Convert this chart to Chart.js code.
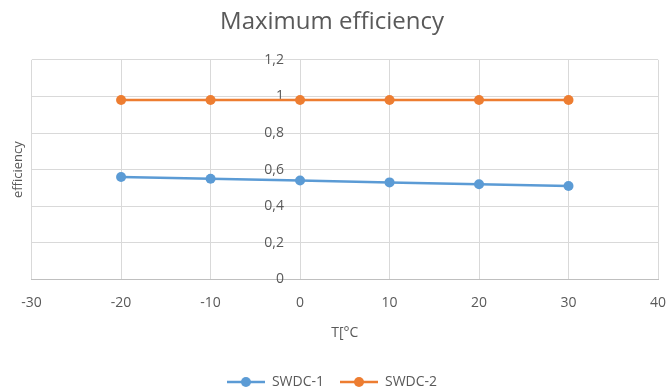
<!DOCTYPE html>
<html>
<head>
<meta charset="utf-8">
<script src="https://cdn.jsdelivr.net/npm/chart.js@4"></script>
<style>
  html, body { margin: 0; padding: 0; background: #fff; }
  #wrap { width: 669px; height: 390px; }
</style>
</head>
<body>
<div id="wrap"><canvas id="chart" width="669" height="390"></canvas></div>
<script>
const temps = [-20, -10, 0, 10, 20, 30];
const swdc1 = [0.56, 0.55, 0.54, 0.53, 0.52, 0.51];
const swdc2 = [0.98, 0.98, 0.98, 0.98, 0.98, 0.98];
const seriesNames = ["SWDC-1", "SWDC-2"];

const blue = "#5B9BD5";
const orange = "#ED7D31";
const textColor = "#595959";
const gridColor = "#D9D9D9";
const fontFamily = "'Open Sans', Lato, sans-serif";

// excel-like legend marker: short line with a dot in the middle
const legendMarker = (color) => {
  const c = document.createElement("canvas");
  c.width = 38;
  c.height = 12;
  const ctx = c.getContext("2d");
  ctx.strokeStyle = color;
  ctx.lineWidth = 2.5;
  ctx.beginPath();
  ctx.moveTo(0, 6);
  ctx.lineTo(38, 6);
  ctx.stroke();
  ctx.fillStyle = color;
  ctx.beginPath();
  ctx.arc(19, 6, 5, 0, Math.PI * 2);
  ctx.fill();
  return c;
};

const toPoints = (ys) => temps.map((t, i) => ({ x: t, y: ys[i] }));

const makeDataset = (label, ys, color) => ({
  label,
  data: toPoints(ys),
  borderColor: color,
  backgroundColor: color,
  borderWidth: 2.5,
  pointRadius: 5,
  pointBorderWidth: 0,
  pointHoverRadius: 5,
  showLine: true,
  tension: 0,
});

new Chart(document.getElementById("chart"), {
  type: "line",
  data: {
    datasets: [
      makeDataset(seriesNames[0], swdc1, blue),
      makeDataset(seriesNames[1], swdc2, orange),
    ],
  },
  options: {
    responsive: false,
    animation: false,
    layout: { padding: { left: 6, right: 11, top: 0, bottom: -9 } },
    plugins: {
      title: {
        display: true,
        text: "Maximum efficiency",
        color: textColor,
        font: { family: fontFamily, size: 24, weight: "normal" },
        padding: { top: 8, bottom: 23 },
      },
      legend: {
        position: "bottom",
        labels: {
          color: textColor,
          font: { family: fontFamily, size: 14 },
          usePointStyle: true,
          pointStyleWidth: 38,
          padding: 16,
          generateLabels: (chart) =>
            chart.data.datasets.map((ds, i) => ({
              text: ds.label,
              fontColor: textColor,
              pointStyle: legendMarker(ds.borderColor),
              strokeStyle: ds.borderColor,
              fillStyle: ds.borderColor,
              lineWidth: 0,
              datasetIndex: i,
              hidden: false,
            })),
        },
      },
      tooltip: { enabled: false },
    },
    scales: {
      x: {
        type: "linear",
        min: -30,
        max: 40,
        ticks: {
          stepSize: 10,
          color: textColor,
          padding: 0,
          font: { family: fontFamily, size: 14 },
        },
        // invisible tick marks give the gap under the axis
        grid: { color: gridColor, drawTicks: true, tickLength: 15, tickColor: "rgba(0,0,0,0)" },
        border: { color: "#BFBFBF" },
        title: {
          display: true,
          text: "T[°C",
          color: textColor,
          font: { family: fontFamily, size: 14 },
          padding: { top: 13, bottom: 18 },
        },
      },
      y: {
        min: 0,
        max: 1.2,
        ticks: { stepSize: 0.2, display: false },
        grid: { color: gridColor, drawTicks: false },
        border: { display: false },
        title: {
          display: true,
          text: "efficiency",
          color: textColor,
          font: { family: fontFamily, size: 13 },
          padding: { top: 4, bottom: 6 },
        },
      },
      y2: {
        axis: "y",
        position: { x: -1.8 },
        min: 0,
        max: 1.2,
        ticks: {
          stepSize: 0.2,
          color: textColor,
          padding: 0,
          font: { family: fontFamily, size: 14 },
          callback: (v) => String(Math.round(v * 10) / 10).replace(".", ","),
        },
        grid: { display: false, drawTicks: false },
        border: { display: false },
      },
    },
  },
});
</script>
</body>
</html>
